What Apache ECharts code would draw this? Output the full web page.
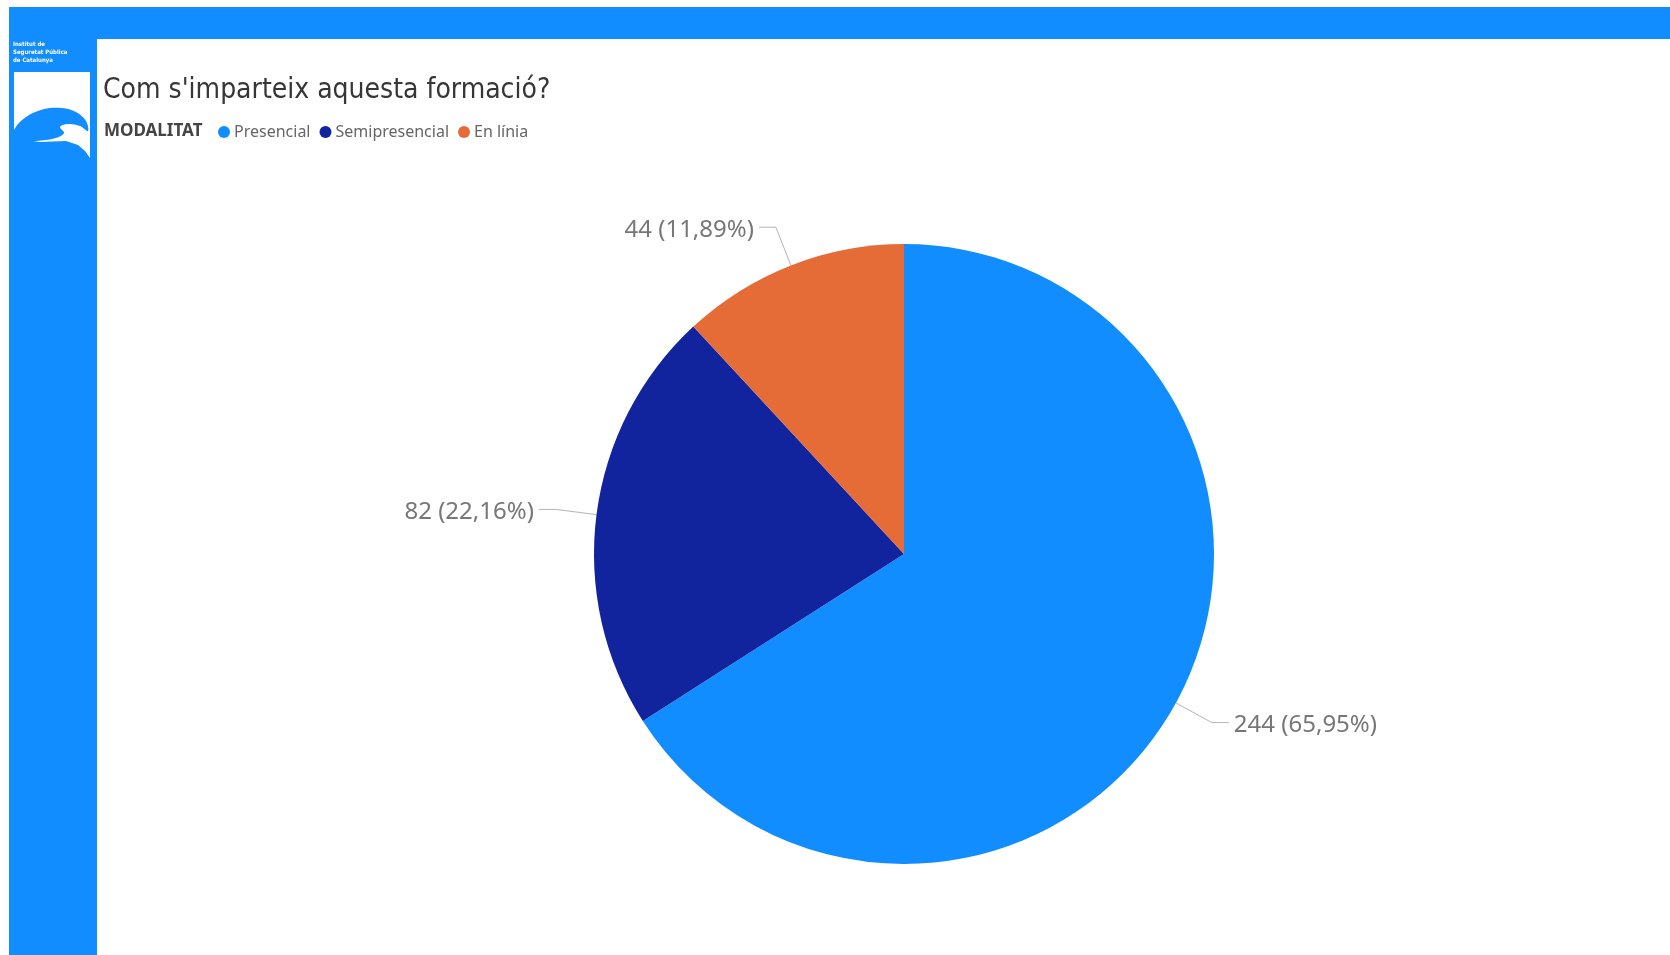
<!DOCTYPE html>
<html>
<head>
<meta charset="utf-8">
<script src="https://cdn.jsdelivr.net/npm/echarts@6/dist/echarts.min.js"></script>
<style>
html,body{margin:0;padding:0;background:#fff;}
#chart{width:1670px;height:955px;}
</style>
</head>
<body>
<div id="chart"></div>
<script>
const titleText = "Com s'imparteix aquesta formació?";
const legendTitle = "MODALITAT";
const categories = ["Presencial", "Semipresencial", "En línia"];
const values = [244, 82, 44];
const colors = ["#118DFF", "#12239E", "#E66C37"];

const chart = echarts.init(document.getElementById('chart'), null, {renderer: 'canvas'});
const fmtPct = p => p.value + ' (' + p.percent.toFixed(2).replace('.', ',') + '%)';

chart.setOption({
  backgroundColor: '#ffffff',
  animation: false,
  title: {
    text: titleText,
    left: 98, top: 72,
    textStyle: {fontFamily: 'DejaVu Sans Condensed', fontSize: 28, fontWeight: 'normal', color: '#363636'}
  },
  legend: {
    data: categories,
    left: 213, top: 119,
    icon: 'circle',
    itemWidth: 12, itemHeight: 12, itemGap: 9,
    textStyle: {fontFamily: 'Noto Sans', fontSize: 16, color: '#666666', padding: [0, 0, 0, -1]}
  },
  graphic: [
    {type: 'rect', shape: {x: 9, y: 7, width: 1661, height: 32}, style: {fill: '#118DFF'}, silent: true},
    {type: 'rect', shape: {x: 9, y: 7, width: 88, height: 948}, style: {fill: '#118DFF'}, silent: true},
    {type: 'text', x: 13, y: 40, style: {text: 'Institut de\nSeguretat Pública\nde Catalunya', fill: '#ffffff', font: 'bold 6px "DejaVu Sans Condensed"', lineHeight: 8}, silent: true},
    {type: 'polygon', shape: {points: [[14,72],[90,72],[90,158],[85,151],[78,145],[66,141],[40,142],[26,140],[14,134]]}, style: {fill: '#ffffff'}, silent: true},
    {type: 'polygon', shape: {smooth: 0.35, points: [[14,130],[26,117],[44,109],[62,108],[76,112],[86,121],[88,131],[80,126],[68,124],[60,127],[64,133],[56,138],[36,141],[14,142]]}, style: {fill: '#118DFF'}, silent: true},
    {type: 'text', x: 104, y: 131, style: {text: legendTitle, fill: '#444444', font: 'bold 17px "Noto Sans"', textVerticalAlign: 'middle', verticalAlign: 'middle'}, silent: true}
  ],
  series: [{
    type: 'pie',
    center: [904, 554],
    radius: 310,
    startAngle: 90,
    clockwise: true,
    color: colors,
    itemStyle: {borderWidth: 0},
    label: {
      show: true,
      position: 'outside',
      formatter: fmtPct,
      fontFamily: 'Noto Sans',
      fontSize: 24,
      color: '#777777',
      offset: [0, 3]
    },
    labelLine: {show: true, length: 41, length2: 17, lineStyle: {color: '#b5b5b5', width: 1}},
    emphasis: {disabled: true},
    data: categories.map((c, i) => ({name: c, value: values[i]}))
  }]
});
</script>
</body>
</html>
